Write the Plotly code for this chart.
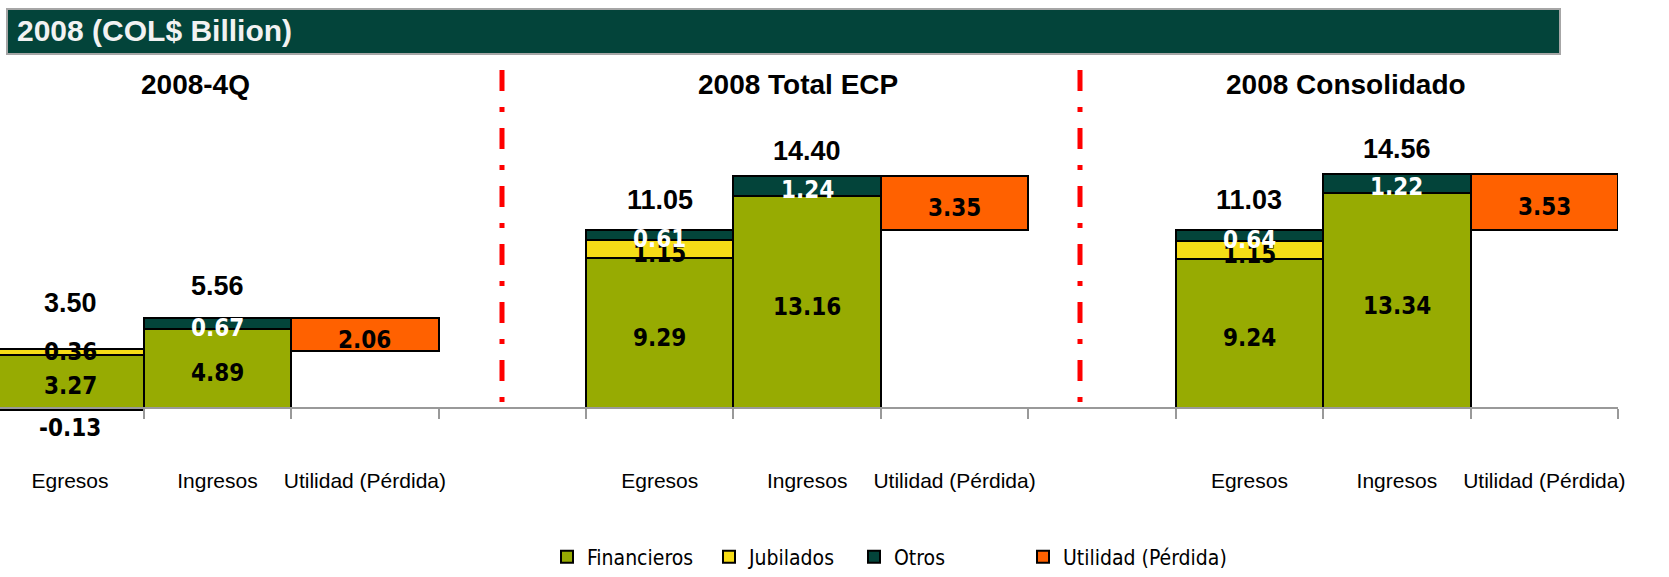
import plotly.graph_objects as go

# 3 paneles: 2008-4Q, 2008 Total ECP, 2008 Consolidado (posiciones 3 y 7 quedan vacias)
x_egresos = [0, 4, 8]
x_ingresos = [1, 5, 9]
x_utilidad = [2, 6, 10]
tick_pos = [0, 1, 2, 4, 5, 6, 8, 9, 10]
tick_labels = ["Egresos", "Ingresos", "Utilidad (Pérdida)"] * 3
panel_titles = ["2008-4Q", "2008 Total ECP", "2008 Consolidado"]

fin_egresos = [3.27, 9.29, 9.24]
fin_ingresos = [4.89, 13.16, 13.34]
jub_egresos = [0.36, 1.15, 1.15]
otros_egresos = [-0.13, 0.61, 0.64]
otros_ingresos = [0.67, 1.24, 1.22]
utilidad = [2.06, 3.35, 3.53]
total_egresos = [3.50, 11.05, 11.03]
total_ingresos = [5.56, 14.40, 14.56]

C_FIN = "#97AB02"
C_JUB = "#F6DC16"
C_OTROS = "#03443A"
C_UTIL = "#FF6100"

W, H = 1669, 577
ML, MR, MT, MB = 0, 51, 70, 129
PW, PH = W - ML - MR, H - MT - MB


def px(x):
    return (x - ML) / PW


def py(y):
    return (H - MB - y) / PH


NARROW = "Noto Sans Condensed, DejaVu Sans Condensed, sans-serif"
lab_font = dict(family=NARROW, size=24, color="black", weight="bold")
big_font = dict(family="Liberation Sans, Arial, sans-serif", size=28, color="black")
tot_font = dict(family="Liberation Sans, Arial, sans-serif", size=27, color="black")
outline = dict(color="black", width=2)

fig = go.Figure()
fig.add_trace(go.Bar(name="Financieros", x=x_egresos + x_ingresos, y=fin_egresos + fin_ingresos,
                     marker=dict(color=C_FIN, line=outline), width=1, legend="legend"))
fig.add_trace(go.Bar(name="Jubilados", x=x_egresos, y=jub_egresos,
                     marker=dict(color=C_JUB, line=outline), width=1, legend="legend2"))
fig.add_trace(go.Bar(name="Otros", x=x_egresos + x_ingresos, y=otros_egresos + otros_ingresos,
                     marker=dict(color=C_OTROS, line=outline), width=1, legend="legend3"))
fig.add_trace(go.Bar(name="Utilidad (Pérdida)", x=x_utilidad, y=utilidad, base=total_egresos,
                     marker=dict(color=C_UTIL, line=outline), width=1, legend="legend4"))

ann = []


def seg_label(x, y, v, color="black", shift=-5):
    f = dict(lab_font)
    f["color"] = color
    ann.append(dict(x=x, y=y, xref="x", yref="y", text=f"{v:.2f}", showarrow=False,
                    font=f, yshift=shift))


for i in range(3):
    # egresos
    seg_label(x_egresos[i], fin_egresos[i] / 2, fin_egresos[i])
    seg_label(x_egresos[i], fin_egresos[i] + jub_egresos[i] / 2, jub_egresos[i],
              shift=0 if i == 0 else -5)
    o = otros_egresos[i]
    if o < 0:
        seg_label(x_egresos[i], o, o, shift=-18)
    else:
        seg_label(x_egresos[i], fin_egresos[i] + jub_egresos[i] + o / 2, o, color="white", shift=-4)
    # ingresos
    seg_label(x_ingresos[i], fin_ingresos[i] / 2, fin_ingresos[i])
    seg_label(x_ingresos[i], fin_ingresos[i] + otros_ingresos[i] / 2, otros_ingresos[i],
              color="white", shift=-4)
    # utilidad
    seg_label(x_utilidad[i], total_egresos[i] + utilidad[i] / 2, utilidad[i])
    # totales
    ann.append(dict(x=x_egresos[i], y=total_egresos[i], text=f"<b>{total_egresos[i]:.2f}</b>",
                    showarrow=False, font=tot_font, yshift=48 if i == 0 else 30))
    ann.append(dict(x=x_ingresos[i], y=total_ingresos[i], text=f"<b>{total_ingresos[i]:.2f}</b>",
                    showarrow=False, font=tot_font, yshift=32 if i == 0 else 25))

# titulos de panel
for xp, t in zip([195, 798, 1346], panel_titles):
    ann.append(dict(x=px(xp), xref="paper", y=py(85), yref="paper", text=f"<b>{t}</b>",
                    showarrow=False, font=big_font, xanchor="center", yanchor="middle"))

# encabezado
ann.append(dict(x=px(15), xref="paper", y=py(31), yref="paper", text="<b>2008 (COL$ Billion)</b>",
                showarrow=False, xanchor="left", yanchor="middle",
                font=dict(family="Liberation Sans, Arial, sans-serif", size=30, color="#F2F2F2")))

shapes = [
    dict(type="rect", xref="paper", yref="paper", x0=px(7), x1=px(1560), y0=py(54), y1=py(9),
         fillcolor=C_OTROS, line=dict(color="#A6A6A6", width=2), layer="below"),
]
for xp in [502, 1080]:
    shapes.append(dict(type="line", xref="paper", yref="y", x0=px(xp), x1=px(xp), y0=21, y1=0,
                       line=dict(color="#FF0000", width=5, dash="21px,16px,5px,16px")))

leg_font = dict(family=NARROW, size=21, color="black")


def leg(xp):
    return dict(orientation="h", x=px(xp - 22), xanchor="left", y=py(557), yanchor="middle",
                font=leg_font, bgcolor="rgba(0,0,0,0)")


ymin, ymax = -2.5, 21
fig.update_layout(
    width=W, height=H, margin=dict(l=ML, r=MR, t=MT, b=MB, autoexpand=False),
    plot_bgcolor="white", paper_bgcolor="white",
    barmode="relative", bargap=0,
    annotations=ann, shapes=shapes,
    showlegend=True,
    legend=leg(569), legend2=leg(731), legend3=leg(876), legend4=leg(1045),
    xaxis=dict(range=[-0.475, 10.5], tickvals=tick_pos, ticktext=tick_labels, ticks="",
               showgrid=False, zeroline=False, showline=True, linecolor="#999999", linewidth=2,
               anchor="free", position=(0 - ymin) / (ymax - ymin), automargin=False,
               tickfont=dict(family="Liberation Sans, Arial, sans-serif", size=21, color="black"),
               ticklabelstandoff=54,
               minor=dict(tick0=0.5, dtick=1, ticks="outside", ticklen=10, tickcolor="#999999",
                          tickwidth=2, showgrid=False)),
    yaxis=dict(range=[ymin, ymax], visible=False, showgrid=False, zeroline=False),
)

# sin margen del body para que la figura quede en la esquina
fig.write_html("out.html", config={"displayModeBar": False},
               post_script="document.body.style.margin='0px';")
